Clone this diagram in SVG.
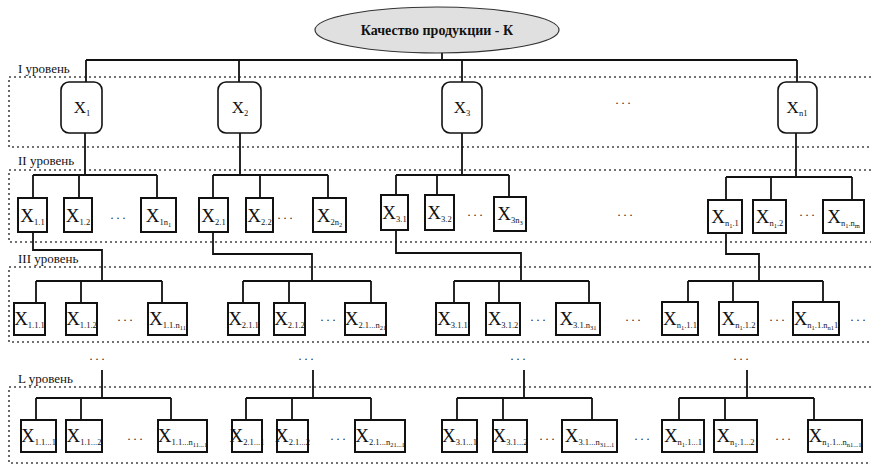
<svg xmlns="http://www.w3.org/2000/svg" width="871" height="464" viewBox="0 0 871 464">
<style>
.bg{fill:#fff}
.lvl{fill:none;stroke:#444;stroke-width:1.6;stroke-dasharray:2 3}
.ln{fill:none;stroke:#111;stroke-width:1.8}
.n1{fill:#fff;stroke:#111;stroke-width:1.6}
.n{fill:#fff;stroke:#111;stroke-width:2}
.t{font-family:'Liberation Serif','DejaVu Serif',serif;font-size:19px;fill:#111;text-anchor:middle}
.t1{font-family:'Liberation Serif','DejaVu Serif',serif;font-size:17px;fill:#111;text-anchor:middle}
.s{font-size:8.5px}
.ss{font-size:6.5px}
.lab{font-family:'Liberation Serif','DejaVu Serif',serif;font-size:13px;fill:#111}
.dots{font-family:'Liberation Serif','DejaVu Serif',serif;font-size:12px;fill:#222;text-anchor:middle}
.root{fill:#e0e0e0;stroke:#333;stroke-width:1.2}
.rt{font-family:'Liberation Serif','DejaVu Serif',serif;font-size:14px;font-weight:bold;fill:#111;text-anchor:middle}
</style>
<rect class="bg" x="0" y="0" width="871" height="464"/>
<g id="levels">
<path class="lvl" d="M871,77 H9 V147 H871"/>
<path class="lvl" d="M871,170 H9 V242 H871"/>
<path class="lvl" d="M871,267 H9 V342 H871"/>
<path class="lvl" d="M871,387 H9 V463 H871"/>
<text class="lab" x="18" y="73">I уровень</text>
<text class="lab" x="18" y="165">II уровень</text>
<text class="lab" x="18" y="263">III уровень</text>
<text class="lab" x="18" y="383">L уровень</text>
</g>
<g id="connectors">
<path class="ln" d="M442,52 V60 M86,60 H797 M86,60 V82 M239,60 V82 M462,60 V82 M797,60 V82"/>
<path class="ln" d="M85,133 V175 M240,133 V175 M462,133 V175 M796,133 V177"/>
<path class="ln" d="M33,175 H157 M33,175 V198 M79,175 V198 M157,175 V198"/>
<path class="ln" d="M213,175 H328 M213,175 V198 M260,175 V198 M328,175 V198"/>
<path class="ln" d="M396,175 H509 M396,175 V195 M437,175 V195 M509,175 V197"/>
<path class="ln" d="M726,177 H852 M726,177 V200 M771,177 V200 M852,177 V200"/>
<path class="ln" d="M33,232 V250 H102 V281 M213,232 V254 H312 V281 M396,230 V253 H521 V281 M726,233 V254 H759 V281"/>
<path class="ln" d="M36,281 H162 M36,281 V303 M81,281 V303 M162,281 V303"/>
<path class="ln" d="M243,281 H371 M243,281 V303 M289,281 V303 M371,281 V303"/>
<path class="ln" d="M454,281 H589 M454,281 V303 M499,281 V303 M589,281 V303"/>
<path class="ln" d="M688,281 H823 M688,281 V303 M733,281 V303 M823,281 V303"/>
<path class="ln" d="M102,370 V398 M313,370 V398 M524,370 V398 M747,370 V398"/>
<path class="ln" d="M36,398 H171 M36,398 V420 M81,398 V420 M171,398 V420"/>
<path class="ln" d="M246,398 H371 M246,398 V420 M292,398 V420 M371,398 V420"/>
<path class="ln" d="M457,398 H592 M457,398 V420 M503,398 V420 M592,398 V420"/>
<path class="ln" d="M679,398 H814 M679,398 V420 M725,398 V420 M814,398 V420"/>
</g>
<g id="root">
<ellipse class="root" cx="437" cy="30" rx="122" ry="23"/>
<text class="rt" x="437" y="35">Качество продукции - К</text>
</g>
<g id="x1"><rect class="n1" x="61" y="82" width="41" height="51" rx="8"/><text class="t1" x="82" y="113">X<tspan class="s" dy="3">1</tspan></text></g>
<g id="x2"><rect class="n1" x="218" y="82" width="43" height="51" rx="8"/><text class="t1" x="240" y="113">X<tspan class="s" dy="3">2</tspan></text></g>
<g id="x3"><rect class="n1" x="442" y="82" width="40" height="51" rx="8"/><text class="t1" x="462" y="113">X<tspan class="s" dy="3">3</tspan></text></g>
<g id="xn1"><rect class="n1" x="778" y="82" width="39" height="51" rx="8"/><text class="t1" x="797" y="113">X<tspan class="s" dy="3">n1</tspan></text></g>
<g id="dots"><text class="dots" x="623" y="104">. . .</text>
<text class="dots" x="118" y="219">. . .</text><text class="dots" x="285" y="219">. . .</text><text class="dots" x="475" y="216">. . .</text><text class="dots" x="625" y="216">. . .</text><text class="dots" x="807" y="216">. . .</text>
<text class="dots" x="125" y="321">. . .</text><text class="dots" x="328" y="321">. . .</text><text class="dots" x="538" y="321">. . .</text><text class="dots" x="633" y="321">. . .</text><text class="dots" x="777" y="321">. . .</text><text class="dots" x="858" y="321">. . .</text>
<text class="dots" x="97" y="360">. . .</text><text class="dots" x="306" y="360">. . .</text><text class="dots" x="518" y="360">. . .</text><text class="dots" x="741" y="360">. . .</text>
<text class="dots" x="135" y="440">. . .</text><text class="dots" x="338" y="440">. . .</text><text class="dots" x="547" y="440">. . .</text><text class="dots" x="642" y="440">. . .</text><text class="dots" x="783" y="440">. . .</text>
</g>
<g id="x1_1"><rect class="n" x="18" y="198" width="29" height="34"/><text class="t" x="32.5" y="222">X<tspan class="s" dy="3">1.1</tspan></text></g>
<g id="x1_2"><rect class="n" x="64" y="198" width="28" height="34"/><text class="t" x="78" y="222">X<tspan class="s" dy="3">1.2</tspan></text></g>
<g id="x1_n"><rect class="n" x="141" y="198" width="35" height="34"/><text class="t" x="158.5" y="222">X<tspan class="s" dy="3">1n</tspan><tspan class="ss" dy="2">1</tspan></text></g>
<g id="x2_1"><rect class="n" x="199" y="198" width="29" height="34"/><text class="t" x="213.5" y="222">X<tspan class="s" dy="3">2.1</tspan></text></g>
<g id="x2_2"><rect class="n" x="246" y="198" width="27" height="34"/><text class="t" x="259.5" y="222">X<tspan class="s" dy="3">2.2</tspan></text></g>
<g id="x2_n"><rect class="n" x="313" y="198" width="33" height="34"/><text class="t" x="329.5" y="222">X<tspan class="s" dy="3">2n</tspan><tspan class="ss" dy="2">2</tspan></text></g>
<g id="x3_1"><rect class="n" x="381" y="195" width="27" height="35"/><text class="t" x="394.5" y="219">X<tspan class="s" dy="3">3.1</tspan></text></g>
<g id="x3_2"><rect class="n" x="425" y="195" width="29" height="35"/><text class="t" x="439.5" y="219">X<tspan class="s" dy="3">3.2</tspan></text></g>
<g id="x3_n"><rect class="n" x="494" y="197" width="32" height="34"/><text class="t" x="510" y="220">X<tspan class="s" dy="3">3n</tspan><tspan class="ss" dy="2">3</tspan></text></g>
<g id="xn_1"><rect class="n" x="708" y="200" width="34" height="33"/><text class="t" x="725" y="223">X<tspan class="s" dy="3">n</tspan><tspan class="ss" dy="2">1</tspan><tspan class="s" dy="-2">.1</tspan></text></g>
<g id="xn_2"><rect class="n" x="753" y="200" width="33" height="33"/><text class="t" x="769.5" y="223">X<tspan class="s" dy="3">n</tspan><tspan class="ss" dy="2">1</tspan><tspan class="s" dy="-2">.2</tspan></text></g>
<g id="xn_n"><rect class="n" x="823" y="200" width="41" height="33"/><text class="t" x="843.5" y="223">X<tspan class="s" dy="3">n</tspan><tspan class="ss" dy="2">1</tspan><tspan class="s" dy="-2">.n</tspan><tspan class="ss" dy="2">m</tspan></text></g>
<g id="x1_1_1"><rect class="n" x="14" y="303" width="31" height="32"/><text class="t" x="29.5" y="325">X<tspan class="s" dy="3">1.1.1</tspan></text></g>
<g id="x1_1_2"><rect class="n" x="66" y="303" width="31" height="32"/><text class="t" x="81.5" y="325">X<tspan class="s" dy="3">1.1.2</tspan></text></g>
<g id="x1_1_n"><rect class="n" x="148" y="303" width="39" height="32"/><text class="t" x="167.5" y="325">X<tspan class="s" dy="3">1.1.n</tspan><tspan class="ss" dy="2">11</tspan></text></g>
<g id="x2_1_1"><rect class="n" x="228" y="303" width="31" height="32"/><text class="t" x="243.5" y="325">X<tspan class="s" dy="3">2.1.1</tspan></text></g>
<g id="x2_1_2"><rect class="n" x="274" y="303" width="31" height="32"/><text class="t" x="289.5" y="325">X<tspan class="s" dy="3">2.1.2</tspan></text></g>
<g id="x2_1_n"><rect class="n" x="345" y="303" width="41" height="32"/><text class="t" x="365.5" y="325">X<tspan class="s" dy="3">2.1...n</tspan><tspan class="ss" dy="2">21</tspan></text></g>
<g id="x3_1_1"><rect class="n" x="436" y="303" width="33" height="32"/><text class="t" x="452.5" y="325">X<tspan class="s" dy="3">3.1.1</tspan></text></g>
<g id="x3_1_2"><rect class="n" x="486" y="303" width="34" height="32"/><text class="t" x="503" y="325">X<tspan class="s" dy="3">3.1.2</tspan></text></g>
<g id="x3_1_n"><rect class="n" x="556" y="303" width="44" height="32"/><text class="t" x="578" y="325">X<tspan class="s" dy="3">3.1.n</tspan><tspan class="ss" dy="2">31</tspan></text></g>
<g id="xn_1_1"><rect class="n" x="662" y="302" width="36" height="33"/><text class="t" x="680" y="325">X<tspan class="s" dy="3">n</tspan><tspan class="ss" dy="2">1</tspan><tspan class="s" dy="-2">.1.1</tspan></text></g>
<g id="xn_1_2"><rect class="n" x="719" y="302" width="39" height="33"/><text class="t" x="738.5" y="325">X<tspan class="s" dy="3">n</tspan><tspan class="ss" dy="2">1</tspan><tspan class="s" dy="-2">.1.2</tspan></text></g>
<g id="xn_1_n"><rect class="n" x="793" y="302" width="46" height="33"/><text class="t" x="816" y="325">X<tspan class="s" dy="3">n</tspan><tspan class="ss" dy="2">1</tspan><tspan class="s" dy="-2">.1.n</tspan><tspan class="ss" dy="2">n1</tspan><tspan class="s" dy="-2">1</tspan></text></g>
<g id="xL1_1"><rect class="n" x="21" y="420" width="35" height="32"/><text class="t" x="38.5" y="442">X<tspan class="s" dy="3">1.1...1</tspan></text></g>
<g id="xL1_2"><rect class="n" x="66" y="420" width="36" height="32"/><text class="t" x="84" y="442">X<tspan class="s" dy="3">1.1...2</tspan></text></g>
<g id="xL1_n"><rect class="n" x="158" y="420" width="49" height="32"/><text class="t" x="182.5" y="442">X<tspan class="s" dy="3">1.1...n</tspan><tspan class="ss" dy="2">11...1</tspan></text></g>
<g id="xL2_1"><rect class="n" x="232" y="420" width="30" height="32"/><text class="t" x="247" y="442">X<tspan class="s" dy="3">2.1...1</tspan></text></g>
<g id="xL2_2"><rect class="n" x="277" y="420" width="31" height="32"/><text class="t" x="292.5" y="442">X<tspan class="s" dy="3">2.1...2</tspan></text></g>
<g id="xL2_n"><rect class="n" x="355" y="420" width="50" height="32"/><text class="t" x="380" y="442">X<tspan class="s" dy="3">2.1...n</tspan><tspan class="ss" dy="2">21...1</tspan></text></g>
<g id="xL3_1"><rect class="n" x="442" y="420" width="35" height="32"/><text class="t" x="459.5" y="442">X<tspan class="s" dy="3">3.1...1</tspan></text></g>
<g id="xL3_2"><rect class="n" x="493" y="420" width="34" height="32"/><text class="t" x="510" y="442">X<tspan class="s" dy="3">3.1...2</tspan></text></g>
<g id="xL3_n"><rect class="n" x="562" y="420" width="55" height="32"/><text class="t" x="589.5" y="442">X<tspan class="s" dy="3">3.1...n</tspan><tspan class="ss" dy="2">31...1</tspan></text></g>
<g id="xLn_1"><rect class="n" x="662" y="420" width="42" height="32"/><text class="t" x="683" y="442">X<tspan class="s" dy="3">n</tspan><tspan class="ss" dy="2">1</tspan><tspan class="s" dy="-2">.1...1</tspan></text></g>
<g id="xLn_2"><rect class="n" x="714" y="420" width="43" height="32"/><text class="t" x="735.5" y="442">X<tspan class="s" dy="3">n</tspan><tspan class="ss" dy="2">1</tspan><tspan class="s" dy="-2">.1...2</tspan></text></g>
<g id="xLn_n"><rect class="n" x="808" y="420" width="54" height="32"/><text class="t" x="835" y="442">X<tspan class="s" dy="3">n</tspan><tspan class="ss" dy="2">1</tspan><tspan class="s" dy="-2">.1...n</tspan><tspan class="ss" dy="2">n1...1</tspan></text></g>
</svg>
